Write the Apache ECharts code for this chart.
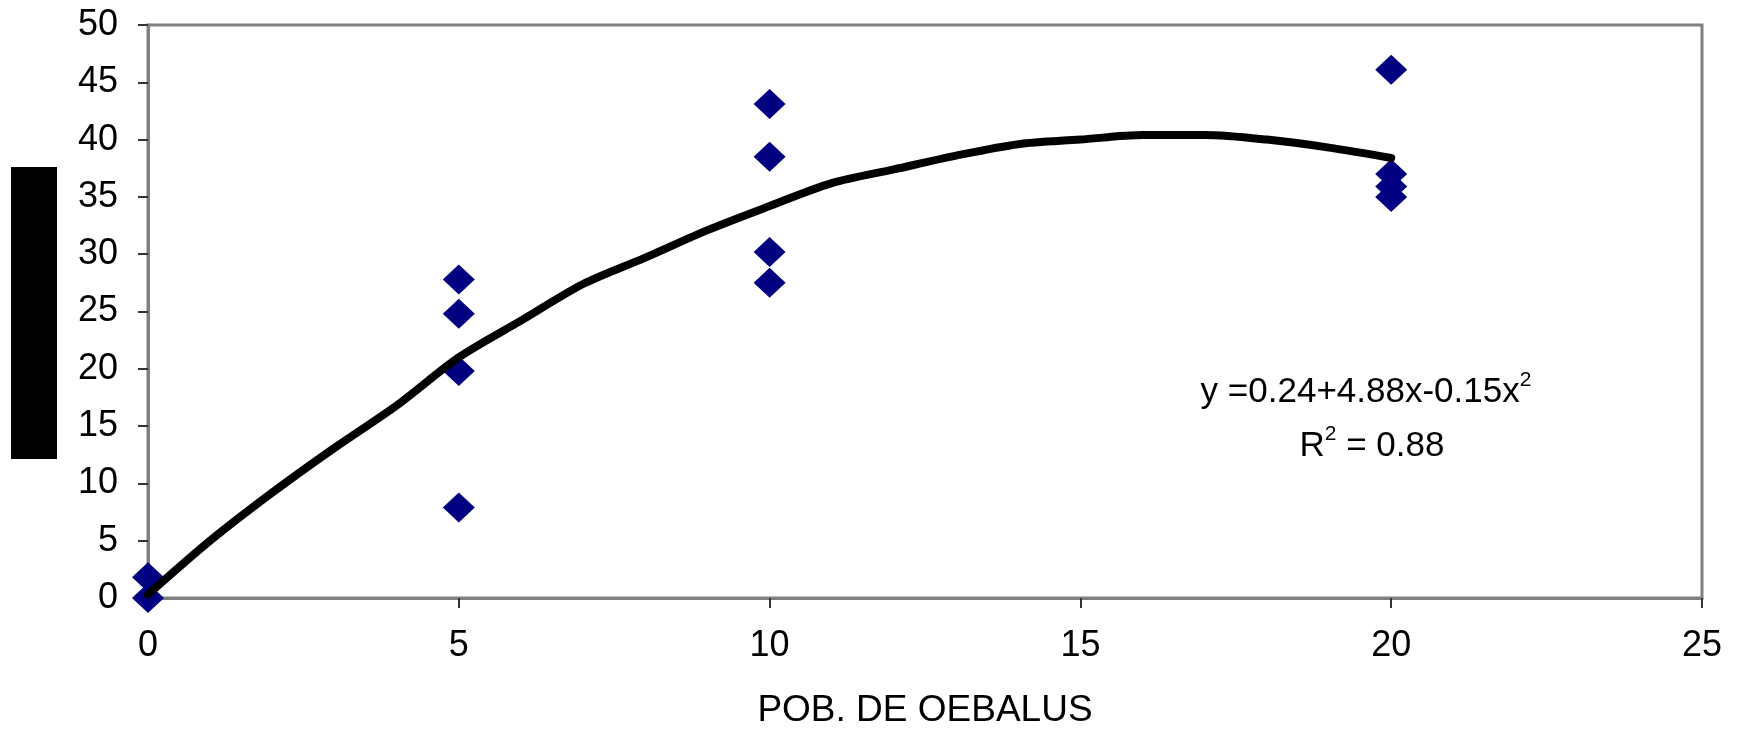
<!DOCTYPE html>
<html>
<head>
<meta charset="utf-8">
<script src="https://cdn.jsdelivr.net/npm/echarts@6/dist/echarts.min.js"></script>
<style>
html,body{margin:0;padding:0;background:#fff;}
#c{width:1748px;height:734px;}
</style>
</head>
<body>
<div id="c"></div>
<script>
// Observed points (population of Oebalus vs. response)
const obsX = [0, 0, 5, 5, 5, 5, 10, 10, 10, 10, 20, 20, 20, 20];
const obsY = [0, 1.8, 27.8, 24.8, 19.8, 7.9, 43.1, 38.5, 30.2, 27.5, 46.1, 37.0, 35.9, 35.0];

// Trend curve
const curveX = [0, 1, 2, 3, 4, 5, 6, 7, 8, 9, 10, 11, 12, 13, 14, 15, 16, 17, 18, 19, 20];
const curveY = [0.3, 5.0, 9.2, 13.1, 16.8, 21.0, 24.2, 27.4, 29.7, 32.1, 34.2, 36.2, 37.4, 38.6, 39.6, 40.0, 40.4, 40.4, 40.0, 39.3, 38.4];

const xTicks = [0, 5, 10, 15, 20, 25];
const yTicks = [0, 5, 10, 15, 20, 25, 30, 35, 40, 45, 50];

const xTitle = 'POB. DE OEBALUS';
const eqLine1 = 'y =0.24+4.88x-0.15x';
const eqLine2a = 'R';
const eqLine2b = ' = 0.88';

const FONT = '"Liberation Sans", Arial, sans-serif';

const chart = echarts.init(document.getElementById('c'), null, {renderer: 'canvas'});

const scatterData = obsX.map((x, i) => [x, obsY[i]]);
const curveData = curveX.map((x, i) => [x, curveY[i]]);

chart.setOption({
  backgroundColor: '#ffffff',
  animation: false,
  grid: {
    left: 148, right: 46, top: 25, bottom: 132,
    show: true, borderColor: '#808080', borderWidth: 3, backgroundColor: 'transparent'
  },
  xAxis: {
    type: 'value',
    min: xTicks[0], max: xTicks[xTicks.length - 1], interval: 5,
    name: xTitle,
    nameLocation: 'middle',
    nameGap: 94,
    nameTextStyle: {fontFamily: FONT, fontSize: 37, color: '#000'},
    axisLine: {show: true, onZero: false, lineStyle: {color: '#808080', width: 3}},
    axisTick: {show: true, inside: false, length: 10, lineStyle: {color: '#333', width: 2}},
    axisLabel: {fontFamily: FONT, fontSize: 36, color: '#000', margin: 30},
    splitLine: {show: false}
  },
  yAxis: {
    type: 'value',
    min: yTicks[0], max: yTicks[yTicks.length - 1], interval: 5,
    axisLine: {show: true, onZero: false, lineStyle: {color: '#808080', width: 3}},
    axisTick: {show: true, inside: false, length: 10, lineStyle: {color: '#333', width: 2}},
    axisLabel: {fontFamily: FONT, fontSize: 36, color: '#000', margin: 30},
    splitLine: {show: false}
  },
  series: [
    {
      type: 'scatter',
      data: scatterData,
      symbol: 'diamond',
      symbolSize: [32, 30],
      itemStyle: {color: '#000080', opacity: 1},
      z: 2
    },
    {
      type: 'line',
      data: curveData,
      showSymbol: false,
      smooth: 0.3,
      lineStyle: {color: '#000000', width: 8, cap: 'round', join: 'round'},
      z: 3
    }
  ],
  graphic: [
    {
      type: 'rect',
      shape: {x: 11, y: 167, width: 46, height: 292},
      style: {fill: '#000000'}
    },
    {
      type: 'text',
      x: 1366, y: 410,
      style: {
        text: '{a|' + eqLine1 + '}{s|2}',
        align: 'center', verticalAlign: 'bottom',
        rich: {
          a: {fontFamily: FONT, fontSize: 35, color: '#000', lineHeight: 40, verticalAlign: 'bottom'},
          s: {fontFamily: FONT, fontSize: 21, color: '#000', lineHeight: 40, verticalAlign: 'top'}
        }
      }
    },
    {
      type: 'text',
      x: 1372, y: 464,
      style: {
        text: '{a|' + eqLine2a + '}{s|2}{a|' + eqLine2b + '}',
        align: 'center', verticalAlign: 'bottom',
        rich: {
          a: {fontFamily: FONT, fontSize: 35, color: '#000', lineHeight: 40, verticalAlign: 'bottom'},
          s: {fontFamily: FONT, fontSize: 21, color: '#000', lineHeight: 40, verticalAlign: 'top'}
        }
      }
    }
  ]
});
</script>
</body>
</html>
